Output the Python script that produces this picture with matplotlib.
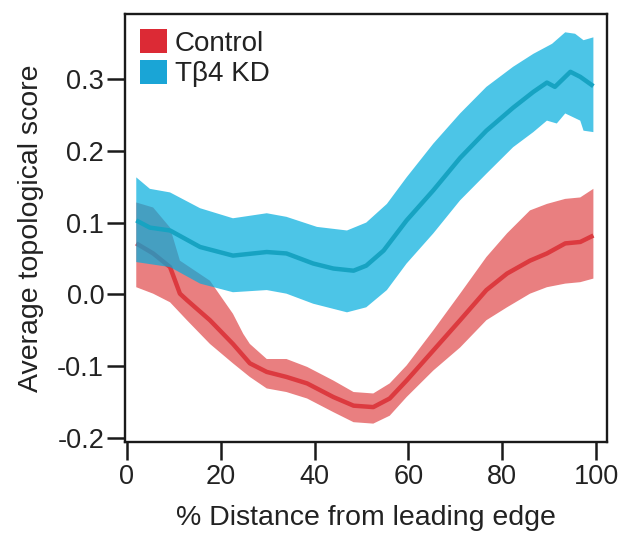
import matplotlib
matplotlib.use("Agg")
import matplotlib.pyplot as plt
from matplotlib.patches import Patch

plt.rcParams['font.family'] = ['Liberation Sans', 'DejaVu Sans']

# ---- Data ----
ctrl_mean_x = [2, 5.6, 9.2, 11.3, 12.8, 17.7, 22.6, 26.2, 29.8, 34, 38.4, 44, 48.3, 52.5, 56, 59.6, 65.3, 71, 76.6, 81, 85.9, 89.5, 93.4, 96.6, 99.4]
ctrl_mean_y = [0.071, 0.057, 0.038, 0.001, -0.008, -0.036, -0.069, -0.096, -0.108, -0.115, -0.124, -0.143, -0.155, -0.157, -0.145, -0.12, -0.078, -0.036, 0.006, 0.029, 0.047, 0.057, 0.071, 0.073, 0.082]
ctrl_up_x = [2, 5.6, 9.2, 11.3, 17.7, 22.6, 24.8, 26.2, 29.8, 34, 38.4, 44, 48.3, 52.5, 56, 59.6, 65.3, 71, 76.6, 81, 85.9, 89.5, 93.4, 96.6, 99.4]
ctrl_up_y = [0.128, 0.121, 0.093, 0.047, 0.019, -0.027, -0.055, -0.069, -0.09, -0.09, -0.101, -0.12, -0.136, -0.138, -0.124, -0.099, -0.05, 0.001, 0.052, 0.085, 0.117, 0.126, 0.133, 0.135, 0.147]
ctrl_lo_x = [2, 5.6, 9.2, 12.8, 17.7, 22.6, 26.2, 29.8, 34, 38.4, 44, 48.3, 52.5, 56, 59.6, 65.3, 71, 76.6, 81, 85.9, 89.5, 93.4, 96.6, 99.4]
ctrl_lo_y = [0.01, 0.001, -0.011, -0.036, -0.069, -0.096, -0.115, -0.131, -0.136, -0.145, -0.164, -0.178, -0.18, -0.169, -0.143, -0.106, -0.074, -0.036, -0.018, 0.001, 0.01, 0.015, 0.017, 0.022]

kd_mean_x = [2, 4.9, 9.2, 15.6, 22.6, 29.8, 34, 39.7, 44, 48.3, 51, 54.7, 59.6, 65.3, 71, 76.6, 82.3, 86.6, 89.5, 91.2, 94.5, 96.6, 99.4]
kd_mean_y = [0.103, 0.093, 0.089, 0.066, 0.054, 0.059, 0.057, 0.043, 0.036, 0.033, 0.04, 0.061, 0.103, 0.145, 0.19, 0.228, 0.26, 0.282, 0.295, 0.289, 0.31, 0.303, 0.29]
kd_up_x = [2, 4.9, 9.2, 15.6, 22.6, 29.8, 34, 40.5, 46.9, 51, 55.4, 59.6, 65.3, 71, 76.6, 82.3, 86.6, 90.6, 93.4, 95.5, 97.3, 99.4]
kd_up_y = [0.163, 0.147, 0.142, 0.12, 0.106, 0.113, 0.108, 0.094, 0.089, 0.1, 0.126, 0.163, 0.21, 0.252, 0.289, 0.317, 0.335, 0.349, 0.365, 0.363, 0.354, 0.358]
kd_lo_x = [2, 9.2, 15.6, 22.6, 29.8, 34, 39.7, 46.9, 51, 55.4, 59.6, 65.3, 71, 76.6, 82.3, 86.6, 89.5, 91.6, 93.4, 96.6, 97.3, 99.4]
kd_lo_y = [0.045, 0.038, 0.015, 0.003, 0.006, 0.001, -0.013, -0.025, -0.018, 0.006, 0.043, 0.085, 0.131, 0.168, 0.205, 0.226, 0.242, 0.238, 0.252, 0.242, 0.228, 0.226]

x_ticks = [0, 20, 40, 60, 80, 100]
y_ticks = [-0.2, -0.1, 0.0, 0.1, 0.2, 0.3]
y_tick_labels = ["-0.2", "-0.1", "0.0", "0.1", "0.2", "0.3"]
labels = ["Control", "T\u03b24 KD"]

# ---- Styles ----
red_fill = "#e97f80"
red_line = "#dc3a3f"
blue_fill = (0.0, 0.68, 0.87, 0.70)
blue_line = "#17a3c2"

fig = plt.figure(figsize=(6.28, 5.37), dpi=100)
ax = fig.add_axes([125 / 628, 1 - 442 / 537, (607 - 125) / 628, (442 - 14) / 537])

ax.fill(ctrl_up_x + ctrl_lo_x[::-1], ctrl_up_y + ctrl_lo_y[::-1],
        color=red_fill, lw=0, zorder=1)
ax.plot(ctrl_mean_x, ctrl_mean_y, color=red_line, lw=3.2, zorder=2,
        solid_joinstyle="round", solid_capstyle="butt")
ax.fill(kd_up_x + kd_lo_x[::-1], kd_up_y + kd_lo_y[::-1],
        color=blue_fill, lw=0, zorder=3)
ax.plot(kd_mean_x, kd_mean_y, color=blue_line, lw=3.2, zorder=4,
        solid_joinstyle="round", solid_capstyle="butt")

ax.set_xlim(-0.4, 102.3)
ax.set_ylim(-0.2056, 0.3905)
ax.set_xticks(x_ticks)
ax.set_yticks(y_ticks)
ax.set_yticklabels(y_tick_labels)

for s in ax.spines.values():
    s.set_linewidth(1.7)
    s.set_color("#1a1a1a")
ax.tick_params(axis="both", direction="out", length=13, width=1.8,
               color="#1a1a1a", labelsize=19.5, labelcolor="#222222")
ax.tick_params(axis="x", pad=3)
ax.tick_params(axis="y", pad=2)

ax.set_xlabel("% Distance from leading edge", fontsize=20.5, color="#222222")
ax.xaxis.set_label_coords(0.5, -0.148)
ax.set_ylabel("Average topological score", fontsize=20.5, color="#222222")
ax.yaxis.set_label_coords(-0.168, 0.5)

handles = [Patch(facecolor="#dc2a35", edgecolor="none"),
           Patch(facecolor="#1aa5d6", edgecolor="none")]
leg = ax.legend(handles, labels, loc="upper left", bbox_to_anchor=(0.0, 1.0),
                frameon=False, fontsize=20, handlelength=0.95, handleheight=0.95,
                handletextpad=0.3, labelspacing=0.1, borderaxespad=0.25,
                borderpad=0.3)
for t in leg.get_texts():
    t.set_color("#222222")

fig.savefig("out.png", dpi=100)
